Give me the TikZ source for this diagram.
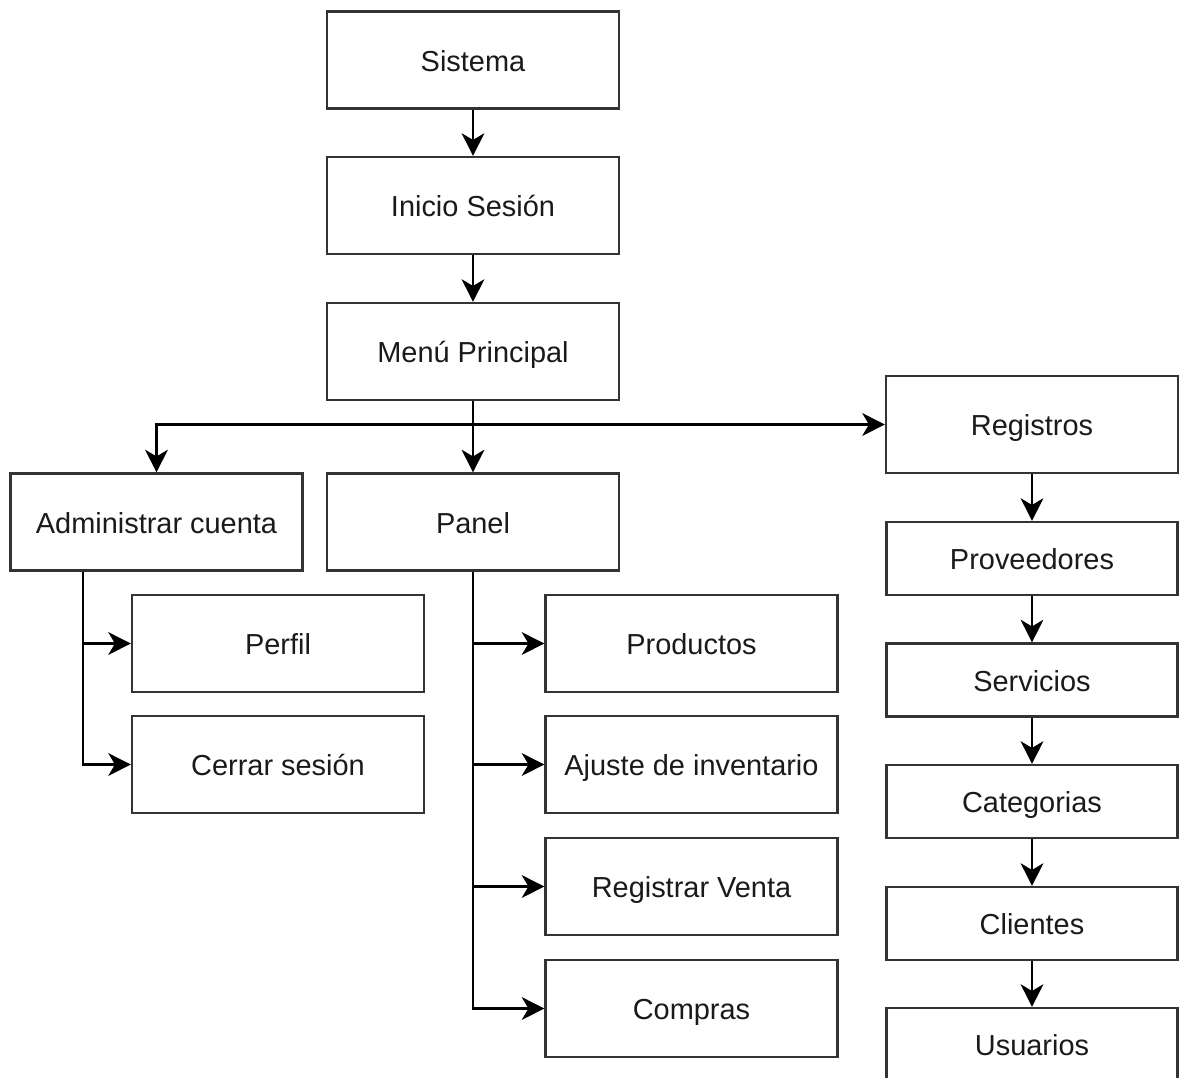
\documentclass[tikz,border=0pt]{standalone}
\usepackage{fontspec}
\setmainfont{Liberation Sans}
\usetikzlibrary{arrows.meta}
\definecolor{boxline}{HTML}{333333}
\definecolor{txt}{HTML}{1A1A1A}
\begin{document}
\begin{tikzpicture}[x=0.75pt,y=-0.75pt,
  box/.style={draw=boxline,line width=1.6pt,fill=white,rectangle,inner sep=0pt,
    text=txt,font=\fontsize{21.7}{26}\selectfont,text height=19.6pt,text depth=3.1pt},
  bigbox/.style={box,minimum width=292*0.75pt,minimum height=97*0.75pt},
  smallbox/.style={box,minimum width=291*0.75pt,minimum height=73*0.75pt},
  conn/.style={line width=1.6pt,draw=black,-{Stealth[length=17pt,width=17pt,inset=5pt]}}]
\useasboundingbox (0,0) rectangle (1179,1078);
\begin{scope}
\clip (0,0) rectangle (1179,1078);
\node[bigbox] (sis) at (473,60) {Sistema};
\node[bigbox] (ini) at (473,205.5) {Inicio Sesión};
\node[bigbox] (menu) at (473,351.5) {Menú Principal};
\node[bigbox] (reg) at (1032,424.5) {Registros};
\node[bigbox] (adm) at (156.5,522) {Administrar cuenta};
\node[bigbox] (pan) at (473,522) {Panel};
\node[bigbox] (per) at (278,643.5) {Perfil};
\node[bigbox] (cer) at (278,764.5) {Cerrar sesión};
\node[bigbox] (pro) at (691.5,643.5) {Productos};
\node[bigbox] (aju) at (691.5,764.5) {Ajuste de inventario};
\node[bigbox] (ven) at (691.5,886.5) {Registrar Venta};
\node[bigbox] (com) at (691.5,1008.5) {Compras};
\node[smallbox] (prv) at (1032,558.5) {Proveedores};
\node[smallbox] (ser) at (1032,680) {Servicios};
\node[smallbox] (cat) at (1032,801.5) {Categorias};
\node[smallbox] (cli) at (1032,923.5) {Clientes};
\node[box,minimum width=291*0.75pt,minimum height=97*0.75pt] (usu) at (1032,1056.5) {};
\node[text=txt,font=\fontsize{21.7}{26}\selectfont,text height=19.6pt,text depth=3.1pt,inner sep=0pt] (usut) at (1032,1044.5) {Usuarios};
\end{scope}
\coordinate (j) at (473,424.5);
\draw[conn] (sis) -- (ini);
\draw[conn] (ini) -- (menu);
\draw[conn] (menu) -- (pan);
\draw[conn] (menu.south) |- (j) -| (adm.north);
\draw[conn] (j) -- (reg.west);
\draw[conn] ([xshift=-73.5*0.75pt]adm.south) |- (per.west);
\draw[conn] ([xshift=-73.5*0.75pt]adm.south) |- (cer.west);
\draw[conn] (pan.south) |- (pro.west);
\draw[conn] (pan.south) |- (aju.west);
\draw[conn] (pan.south) |- (ven.west);
\draw[conn] (pan.south) |- (com.west);
\draw[conn] (reg) -- (prv);
\draw[conn] (prv) -- (ser);
\draw[conn] (ser) -- (cat);
\draw[conn] (cat) -- (cli);
\draw[conn] (cli.south) -- (usu.north);
\end{tikzpicture}
\end{document}
